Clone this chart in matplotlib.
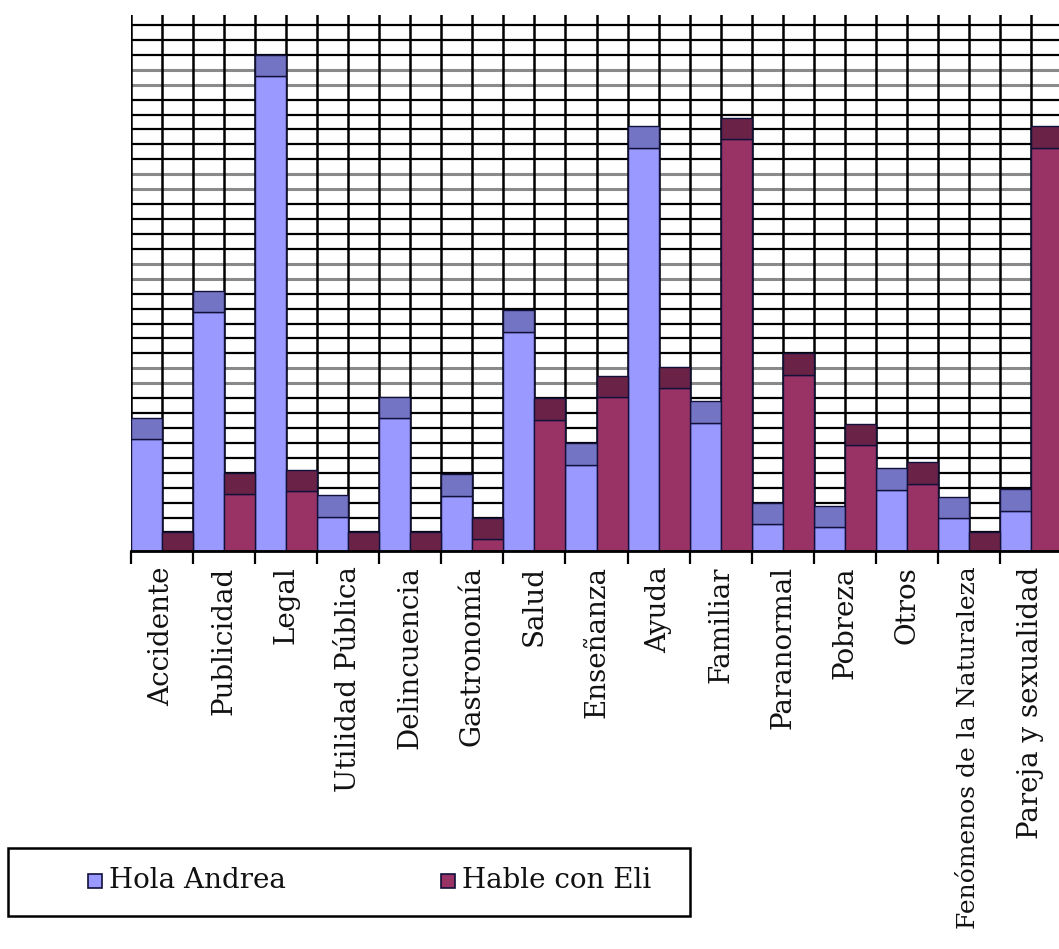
import numpy as np
import matplotlib
matplotlib.use('Agg')
import matplotlib.pyplot as plt
from matplotlib.patches import Rectangle

categories = ['Accidente', 'Publicidad', 'Legal', 'Utilidad Pública', 'Delincuencia',
              'Gastronomía', 'Salud', 'Enseñanza', 'Ayuda', 'Familiar', 'Paranormal',
              'Pobreza', 'Otros', 'Fenómenos de la Naturaleza', 'Pareja y sexualidad']
series_names = ['Hola Andrea', 'Hable con Eli']
hola_andrea = [7.7, 16.2, 32.0, 2.5, 9.1, 3.9, 14.9, 6.0, 27.2, 8.8, 2.0, 1.8, 4.3, 2.4, 2.9]
hable_con_eli = [0.0, 4.0, 4.2, 0.0, 0.0, 1.0, 9.0, 10.5, 11.1, 27.8, 12.0, 7.3, 4.7, 0.0, 27.2]

FRONT = ['#9999ff', '#993366']
TOP = ['#7474c4', '#6a2347']
EDGE = '#10103a'
DEPTH = 1.45      # height of the 3-D top face
FLOOR = -1.24     # front edge of the floor
YMAX = 34.67
GRAY_LINES = {31, 30, 24, 23, 18, 17, 11, 10}
FONT = 'DejaVu Serif'

W, H = 1059, 949
fig = plt.figure(figsize=(W / 100, H / 100), dpi=100)
ax = fig.add_axes([131 / W, 398 / H, 931 / W, 536 / H])

# back wall grid
for v in range(35):
    if v in GRAY_LINES:
        ax.axhline(v, color='#8a8a8a', lw=2.2, zorder=1)
    else:
        ax.axhline(v, color='black', lw=1.6, zorder=1)
for k in np.arange(-0.5, len(categories), 0.5):
    ax.axvline(k, color='black', lw=1.8, zorder=1)

x = np.arange(len(categories))
for j, vals in enumerate([hola_andrea, hable_con_eli]):
    vals = np.array(vals)
    pos = x + (j - 0.5) * 0.5
    front_top = np.maximum(vals - DEPTH, FLOOR)
    ax.bar(pos, front_top - FLOOR, bottom=FLOOR, width=0.5, color=FRONT[j],
           edgecolor=EDGE, lw=1, zorder=3)
    ax.bar(pos, vals - front_top, bottom=front_top, width=0.5, color=TOP[j],
           edgecolor=EDGE, lw=1, zorder=3)

ax.set_xlim(-0.5, len(categories) - 0.5)
ax.set_ylim(FLOOR, YMAX)
ax.set_yticks([])
ax.set_xticks(x)
ax.set_xticklabels(categories, rotation=90, fontsize=20, family=FONT,
                   va='top', ha='center', color='#111111')
# the long label only just fits above the bottom edge
ax.get_xticklabels()[13].set_fontsize(18)
ax.set_xticks(np.arange(-0.5, len(categories), 1.0), minor=True)
ax.tick_params(axis='x', which='major', length=0, pad=11)
ax.tick_params(axis='x', which='minor', length=9, width=1.6, color='black')
for s in ['top', 'right', 'left']:
    ax.spines[s].set_visible(False)
ax.spines['bottom'].set_linewidth(2)
ax.spines['bottom'].set_zorder(5)

# legend box
fig.patches.append(Rectangle((8 / W, (H - 916) / H), 682 / W, 68 / H,
                             transform=fig.transFigure, facecolor='white',
                             edgecolor='black', lw=1.8))
for name, fc, xs in zip(series_names, FRONT, [88, 441]):
    fig.patches.append(Rectangle((xs / W, (H - 888) / H), 14 / W, 14 / H,
                                 transform=fig.transFigure, facecolor=fc,
                                 edgecolor=EDGE, lw=1.2))
    fig.text((xs + 21) / W, (H - 881) / H, name, fontsize=20, family=FONT,
             va='center', ha='left', color='#111111')

fig.savefig('out.png', dpi=100, facecolor='white')
